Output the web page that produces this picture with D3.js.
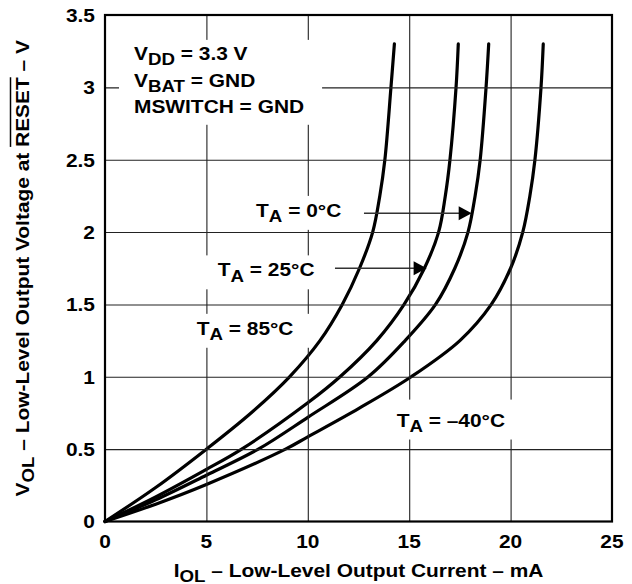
<!DOCTYPE html>
<html><head><meta charset="utf-8">
<script src="https://cdn.jsdelivr.net/npm/d3@7"></script>
<style>
body{margin:0;background:#fff}
svg{display:block}
text{font-family:"Liberation Sans",Arial,Helvetica,sans-serif;font-weight:bold;fill:#000}
</style>
</head><body>
<svg id="chart" width="632" height="584"></svg>
<script>
// ---- data ----
const xTicks = [0, 5, 10, 15, 20, 25];
const xTickLabels = ["0", "5", "10", "15", "20", "25"];
const yTicks = [0, 0.5, 1, 1.5, 2, 2.5, 3, 3.5];
const yTickLabels = ["0", "0.5", "1", "1.5", "2", "2.5", "3", "3.5"];

const seriesNames = ["85°C", "25°C", "0°C", "–40°C"];
const current85 = [0, 2.5, 5, 7.2, 9.1, 10.6, 11.7, 12.55, 13.2, 13.55, 13.8, 14.1, 14.27];
const voltage85 = [0, 0.235, 0.5, 0.75, 1.0, 1.25, 1.5, 1.75, 2.0, 2.25, 2.5, 3.0, 3.3];
const current25 = [0, 2.5, 5, 6.74, 10, 11.59, 13.4, 14.75, 15.75, 16.45, 16.78, 17.01, 17.31, 17.42];
const voltage25 = [0, 0.17, 0.36, 0.5, 0.82, 1.0, 1.25, 1.5, 1.75, 2.0, 2.25, 2.5, 3.0, 3.3];
const current0 = [0, 2.5, 5, 7.56, 10, 12.98, 14.8, 16.3, 17.25, 17.9, 18.25, 18.5, 18.79, 18.92];
const voltage0 = [0, 0.15, 0.32, 0.5, 0.72, 1.0, 1.25, 1.5, 1.75, 2.0, 2.25, 2.5, 3.0, 3.3];
const currentM40 = [0, 2.5, 5, 8.9, 10, 12.5, 15.1, 17.5, 19.05, 20.0, 20.6, 20.95, 21.2, 21.5, 21.61];
const voltageM40 = [0, 0.12, 0.256, 0.5, 0.585, 0.78, 1.0, 1.25, 1.5, 1.75, 2.0, 2.25, 2.5, 3.0, 3.3];

const conditionLines = [
  [{t:"V"},{t:"DD",sub:true},{t:" = 3.3 V"}],
  [{t:"V"},{t:"BAT",sub:true},{t:" = GND"}],
  [{t:"MSWITCH = GND"}]
];
// label anchor (left x, baseline) in data units; arrows in data units
const labelX = [4.52, 5.56, 7.45, 14.38];
const labelY = [1.289, 1.693, 2.104, 0.655];
const arrowFromX = [null, 11.34, 12.77, null];
const arrowToX = [null, 15.86, 18.08, null];
const arrowY = [null, 1.75, 2.13, null];
const conditionX = 1.43;
const conditionY = [3.189, 3.0, 2.823];

// ---- layout ----
const svg = d3.select("#chart");
const x = d3.scaleLinear().domain([0, 25]).range([105, 612]);
const y = d3.scaleLinear().domain([0, 3.5]).range([521.5, 15]);
const SX = 1.1, FS = 19, SUBFS = 17, SUBDY = 5;

const defs = svg.append("defs");
const mask = defs.append("mask").attr("id", "gridMask").attr("maskUnits", "userSpaceOnUse")
  .attr("x", 0).attr("y", 0).attr("width", 632).attr("height", 584);
mask.append("rect").attr("x", 0).attr("y", 0).attr("width", 632).attr("height", 584).attr("fill", "#fff");

const curveLayer = svg.append("g");
const textLayer = svg.append("g");
const arrowLayer = svg.append("g");
const frameLayer = svg.append("g");

function addText(parent, parts, anchor) {
  const t = parent.append("text").attr("font-size", FS).attr("text-anchor", anchor || "start");
  let shifted = false;
  parts.forEach(p => {
    const ts = t.append("tspan").text(p.t);
    if (p.sub) { ts.attr("font-size", SUBFS).attr("dy", SUBDY); shifted = true; }
    else if (shifted) { ts.attr("dy", -SUBDY); shifted = false; }
  });
  return t;
}
function label(px, py, lines, lineGap, pad) {
  const g = textLayer.append("g").attr("transform", `translate(${px},${py}) scale(${SX},1)`);
  lines.forEach((parts, i) => {
    const tg = g.append("g").attr("transform", `translate(0,${lineGap[i] || 0})`);
    addText(tg, parts);
  });
  const r = g.node().getBoundingClientRect();
  const s = svg.node().getBoundingClientRect();
  mask.append("rect")
    .attr("x", r.left - s.left - pad[0]).attr("y", r.top - s.top - pad[1])
    .attr("width", r.width + pad[0] + pad[2]).attr("height", r.height + pad[1] + pad[3])
    .attr("fill", "#000");
}

// curves
const curves = [[current85, voltage85], [current25, voltage25], [current0, voltage0], [currentM40, voltageM40]];
const lineGen = d3.line().x(d => x(d[0])).y(d => y(d[1])).curve(d3.curveCatmullRom.alpha(0.5));
curves.forEach(c => {
  curveLayer.append("path")
    .attr("d", lineGen(c[0].map((v, k) => [v, c[1][k]])))
    .attr("fill", "none").attr("stroke", "#000").attr("stroke-width", 3.2)
    .attr("stroke-linecap", "round").attr("stroke-linejoin", "round");
});

// labels (their boxes cut gaps into the grid)
label(x(conditionX), y(conditionY[0]), conditionLines,
  conditionY.map(v => y(v) - y(conditionY[0])), [15, 3, 18, 8]);
seriesNames.forEach((n, i) => {
  label(x(labelX[i]), y(labelY[i]), [[{t:"T"},{t:"A",sub:true},{t:" = " + n}]], [0],
    i === 3 ? [13, 10, 12, 4] : [13, 4, 16, 4]);
});

// arrows
seriesNames.forEach((n, i) => {
  if (arrowFromX[i] == null) return;
  const x1 = x(arrowFromX[i]), x2 = x(arrowToX[i]), yy = y(arrowY[i]);
  arrowLayer.append("line").attr("x1", x1).attr("x2", x2 - 12).attr("y1", yy).attr("y2", yy)
    .attr("stroke", "#333").attr("stroke-width", 1.3);
  arrowLayer.append("path").attr("d", `M${x2},${yy}L${x2 - 13},${yy - 7}L${x2 - 13},${yy + 7}Z`).attr("fill", "#000");
});

// tick labels
xTicks.forEach((v, i) => {
  const g = frameLayer.append("g").attr("transform", `translate(${x(v)},548) scale(${SX},1)`);
  addText(g, [{t: xTickLabels[i]}], "middle");
});
yTicks.forEach((v, i) => {
  const g = frameLayer.append("g").attr("transform", `translate(95,${y(v) + 6.8}) scale(${SX},1)`);
  addText(g, [{t: yTickLabels[i]}], "end");
});

// x title
{
  const g = frameLayer.append("g").attr("transform", `translate(${(x(0) + x(25)) / 2},576.5) scale(${SX},1)`);
  addText(g, [{t:"I"},{t:"OL",sub:true},{t:" – Low-Level Output Current – mA"}], "middle");
}
// y title
{
  const g = frameLayer.append("g").attr("transform", `translate(29,${(y(0) + y(3.5)) / 2}) rotate(-90) scale(${SX},1)`);
  const pre = " – Low-Level Output Voltage at ";
  const t = addText(g, [{t:"V"},{t:"OL",sub:true},{t:pre},{t:"RESET"},{t:" – V"}], "middle");
  const s = 1 + 2 + pre.length;
  const n = t.node();
  const xa = n.getStartPositionOfChar(s).x, xb = n.getEndPositionOfChar(s + 4).x;
  g.append("path").attr("d", `M${xa},-18.5H${xb}`)
    .attr("stroke", "#000").attr("stroke-width", 1.5).attr("fill", "none");
}

// grid, drawn with d3 axes (tick lines span the plot), masked under the labels
const gridG = svg.append("g").attr("mask", "url(#gridMask)");
gridG.append("g").attr("transform", `translate(0,${y(0)})`)
  .call(d3.axisBottom(x).tickValues(xTicks.slice(1, -1)).tickSize(-(y(0) - y(3.5))).tickFormat(""))
  .call(g => g.select(".domain").remove())
  .call(g => g.selectAll(".tick line").attr("stroke", "#222").attr("stroke-width", 1.1));
gridG.append("g").attr("transform", `translate(${x(0)},0)`)
  .call(d3.axisLeft(y).tickValues(yTicks.slice(1, -1)).tickSize(-(x(25) - x(0))).tickFormat(""))
  .call(g => g.select(".domain").remove())
  .call(g => g.selectAll(".tick line").attr("stroke", "#222").attr("stroke-width", 1.1));

// frame
svg.append("rect").attr("x", x(0)).attr("y", y(3.5)).attr("width", x(25) - x(0)).attr("height", y(0) - y(3.5))
  .attr("fill", "none").attr("stroke", "#000").attr("stroke-width", 2.2);
</script>
</body></html>
